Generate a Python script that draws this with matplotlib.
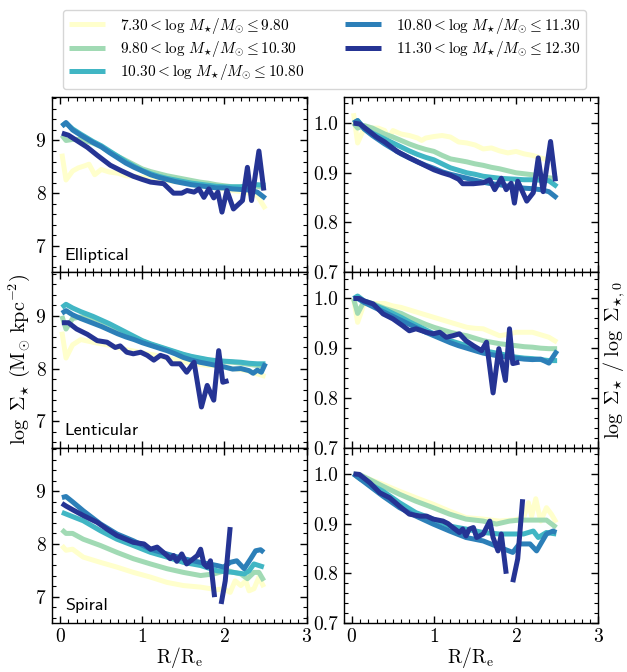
import numpy as np
import matplotlib
matplotlib.use("Agg")
import matplotlib.pyplot as plt
from matplotlib.ticker import MultipleLocator, FormatStrFormatter

plt.rcParams['font.family'] = ['cmr10', 'DejaVu Serif']
plt.rcParams['mathtext.fontset'] = 'cm'
plt.rcParams['axes.formatter.use_mathtext'] = True
plt.rcParams['axes.unicode_minus'] = False

NAN = np.nan
colors = ['#ffffcc', '#a1dab4', '#41b6c4', '#2c7fb8', '#253494']
labels = [r'$7.30 < \log\,M_{\star}/M_{\odot} \leq 9.80$',
          r'$9.80 < \log\,M_{\star}/M_{\odot} \leq 10.30$',
          r'$10.30 < \log\,M_{\star}/M_{\odot} \leq 10.80$',
          r'$10.80 < \log\,M_{\star}/M_{\odot} \leq 11.30$',
          r'$11.30 < \log\,M_{\star}/M_{\odot} \leq 12.30$']
types = ['Elliptical', 'Lenticular', 'Spiral']

xg = [0.02, 0.07, 0.15, 0.25, 0.4, 0.5, 0.6, 0.7, 0.8, 0.9, 1.0, 1.1, 1.2, 1.3,
      1.4, 1.5, 1.6, 1.7, 1.8, 1.9, 2.0, 2.1, 2.2, 2.3, 2.4, 2.5]

# ---------------- Elliptical, log Sigma ----------------
ell_sig_yellow_x = [0.02, 0.07, 0.15, 0.22, 0.3, 0.35, 0.42, 0.5, 0.6, 0.7, 0.8, 0.9, 1.0, 1.1,
                    1.2, 1.3, 1.4, 1.5, 1.6, 1.7, 1.8, 1.9, 2.0, 2.1, 2.2, 2.3, 2.4, 2.5]
ell_sig_yellow_y = [8.75, 8.25, 8.42, 8.48, 8.52, 8.55, 8.35, 8.45, 8.4, 8.38, 8.33, 8.32, 8.3, 8.28,
                    8.25, 8.24, 8.22, 8.2, 8.17, 8.15, 8.12, 8.1, 8.08, 8.05, 8.03, 8.0, 7.95, 7.7]
ell_sig_green_y = [9.1, 9.0, 9.02, 9.02, 8.95, 8.88, 8.78, 8.7, 8.62, 8.54, 8.46, 8.41, 8.37, 8.33,
                   8.3, 8.27, 8.24, 8.21, 8.19, 8.16, 8.14, 8.12, 8.12, 8.12, 8.13, 8.1]
ell_sig_teal_y = [9.28, 9.33, 9.22, 9.12, 8.98, 8.9, 8.8, 8.7, 8.6, 8.51, 8.43, 8.37, 8.32, 8.28,
                  8.25, 8.22, 8.19, 8.17, 8.15, 8.13, 8.12, 8.12, 8.12, 8.15, 8.16, 8.15]
ell_sig_blue_y = [9.27, 9.34, 9.2, 9.1, 8.96, 8.88, 8.77, 8.67, 8.57, 8.49, 8.42, 8.35, 8.3, 8.26,
                  8.22, 8.19, 8.16, 8.14, 8.12, 8.1, 8.1, 8.08, 8.07, 8.06, 8.02, 7.9]
ell_sig_dark_x = [0.02, 0.1, 0.2, 0.33, 0.45, 0.61, 0.75, 0.89, 1.0, 1.1, 1.26, 1.38, 1.48, 1.545,
                  1.63, 1.69, 1.75, 1.81, 1.87, 1.92, 1.97, 2.03, 2.11, 2.22, 2.28, 2.33, 2.42, 2.48]
ell_sig_dark_y = [9.14, 9.1, 9.0, 8.87, 8.72, 8.53, 8.42, 8.32, 8.26, 8.21, 8.18, 8.0, 8.0, 8.05,
                  8.02, 8.08, 7.92, 8.08, 7.91, 8.02, 7.64, 8.05, 7.7, 7.86, 8.49, 7.86, 8.8, 8.05]

# ---------------- Elliptical, ratio ----------------
ell_rat_yellow_x = [0.02, 0.07, 0.15, 0.25, 0.32, 0.4, 0.45, 0.5, 0.6, 0.7, 0.8, 0.85, 0.9, 1.0, 1.1,
                    1.2, 1.3, 1.4, 1.5, 1.6, 1.7, 1.8, 1.9, 2.0, 2.1, 2.2, 2.3, 2.4]
ell_rat_yellow_y = [1.02, 0.96, 0.99, 0.99, 0.99, 0.985, 0.97, 0.985, 0.978, 0.975, 0.97, 0.965, 0.97,
                    0.973, 0.975, 0.972, 0.962, 0.96, 0.956, 0.948, 0.95, 0.944, 0.94, 0.943, 0.938,
                    0.935, 0.93, 0.925]
ell_rat_green_y = [1.0, 0.99, 0.995, 0.99, 0.978, 0.972, 0.965, 0.958, 0.952, 0.947, 0.943, 0.935, 0.928,
                   0.925, 0.922, 0.918, 0.915, 0.911, 0.908, 0.904, 0.9, 0.898, 0.896, 0.893, 0.89, 0.888]
ell_rat_teal_y = [1.0, 1.005, 0.99, 0.98, 0.968, 0.96, 0.952, 0.944, 0.937, 0.931, 0.926, 0.918, 0.91,
                  0.905, 0.9, 0.897, 0.893, 0.891, 0.889, 0.888, 0.887, 0.886, 0.886, 0.885, 0.884, 0.872]
ell_rat_blue_y = [1.0, 1.005, 0.988, 0.975, 0.958, 0.948, 0.938, 0.93, 0.922, 0.915, 0.909, 0.902, 0.897,
                  0.893, 0.889, 0.885, 0.881, 0.878, 0.876, 0.873, 0.871, 0.869, 0.868, 0.866, 0.862, 0.849]
ell_rat_dark_x = [0.02, 0.1, 0.2, 0.3, 0.4, 0.55, 0.7, 0.85, 1.0, 1.1, 1.2, 1.3, 1.35, 1.48, 1.6, 1.68,
                  1.74, 1.82, 1.88, 1.94, 1.98, 2.02, 2.13, 2.21, 2.27, 2.33, 2.42, 2.48]
ell_rat_dark_y = [1.0, 0.998, 0.985, 0.972, 0.962, 0.943, 0.93, 0.918, 0.906, 0.9, 0.895, 0.887, 0.878,
                  0.878, 0.88, 0.886, 0.866, 0.889, 0.866, 0.879, 0.839, 0.883, 0.843, 0.86, 0.93, 0.862,
                  0.963, 0.883]

# ---------------- Lenticular, log Sigma ----------------
len_sig_yellow_y = [8.7, 8.2, 8.45, 8.55, 8.5, 8.47, 8.44, 8.4, 8.36, 8.33, 8.3, 8.27, 8.24, 8.2,
                    8.17, 8.13, 8.1, 8.08, 8.06, 8.05, 8.03, 8.0, 7.98, 7.95, 7.9, 7.85]
len_sig_green_y = [9.0, 8.75, 8.95, 8.98, 8.95, 8.9, 8.83, 8.75, 8.67, 8.59, 8.52, 8.46, 8.41, 8.36,
                   8.31, 8.26, 8.22, 8.19, 8.16, 8.14, 8.13, 8.12, 8.1, 8.08, 8.06, 8.05]
len_sig_teal_y = [9.16, 9.22, 9.15, 9.08, 8.99, 8.92, 8.85, 8.77, 8.69, 8.61, 8.53, 8.47, 8.42, 8.37,
                  8.32, 8.27, 8.23, 8.2, 8.17, 8.15, 8.14, 8.13, 8.12, 8.1, 8.09, 8.09]
len_sig_blue_x = [0.02, 0.07, 0.15, 0.25, 0.4, 0.5, 0.6, 0.7, 0.8, 0.9, 1.0, 1.1, 1.2, 1.3, 1.4, 1.5,
                  1.6, 1.7, 1.8, 1.9, 2.0, 2.1, 2.2, 2.3, 2.35, 2.4, 2.45, 2.5]
len_sig_blue_y = [9.05, 9.1, 9.02, 8.95, 8.86, 8.8, 8.73, 8.66, 8.6, 8.55, 8.49, 8.44, 8.39, 8.34, 8.28,
                  8.21, 8.16, 8.12, 8.09, 8.06, 8.03, 7.99, 8.0, 7.96, 7.91, 7.97, 7.93, 8.1]
len_sig_dark_x = [0.02, 0.1, 0.2, 0.33, 0.45, 0.57, 0.67, 0.73, 0.81, 0.89, 0.98, 1.06, 1.14, 1.22,
                  1.3, 1.36, 1.46, 1.54, 1.63, 1.72, 1.79, 1.87, 1.93, 1.98, 2.05]
len_sig_dark_y = [8.87, 8.87, 8.75, 8.65, 8.53, 8.5, 8.4, 8.43, 8.31, 8.28, 8.31, 8.25, 8.16, 8.25,
                  8.21, 8.09, 8.09, 7.93, 8.12, 7.27, 7.68, 7.4, 8.34, 7.74, 7.77]

# ---------------- Lenticular, ratio ----------------
len_rat_yellow_y = [1.0, 0.952, 0.99, 0.99, 0.99, 0.985, 0.982, 0.977, 0.972, 0.967, 0.962, 0.957, 0.952,
                    0.947, 0.942, 0.94, 0.939, 0.932, 0.925, 0.928, 0.932, 0.932, 0.932, 0.927, 0.922, 0.912]
len_rat_green_y = [1.0, 0.97, 0.995, 0.99, 0.98, 0.975, 0.97, 0.962, 0.955, 0.948, 0.942, 0.937, 0.932,
                   0.928, 0.925, 0.92, 0.915, 0.912, 0.909, 0.907, 0.905, 0.903, 0.902, 0.9, 0.899, 0.899]
len_rat_teal_y = [1.0, 1.005, 0.995, 0.988, 0.978, 0.97, 0.962, 0.953, 0.945, 0.937, 0.929, 0.922, 0.915,
                  0.91, 0.905, 0.9, 0.895, 0.892, 0.889, 0.885, 0.882, 0.88, 0.879, 0.877, 0.875, 0.875]
len_rat_blue_y = [1.0, 1.0, 0.992, 0.984, 0.972, 0.964, 0.956, 0.948, 0.94, 0.932, 0.925, 0.918, 0.911,
                  0.905, 0.9, 0.895, 0.89, 0.887, 0.884, 0.882, 0.88, 0.878, 0.877, 0.878, 0.87, 0.895]
len_rat_dark_x = [0.02, 0.09, 0.15, 0.26, 0.38, 0.5, 0.62, 0.7, 0.78, 0.91, 0.99, 1.07, 1.15, 1.23,
                  1.31, 1.39, 1.48, 1.58, 1.64, 1.72, 1.79, 1.87, 1.92, 1.96, 2.04]
len_rat_dark_y = [1.0, 1.0, 0.995, 0.989, 0.969, 0.959, 0.945, 0.935, 0.939, 0.932, 0.929, 0.932, 0.922,
                  0.925, 0.929, 0.915, 0.905, 0.895, 0.912, 0.81, 0.899, 0.835, 0.939, 0.869, 0.872]

# ---------------- Spiral, log Sigma ----------------
spi_sig_yellow_x = [0.02, 0.07, 0.15, 0.28, 0.49, 0.69, 0.89, 1.1, 1.3, 1.5, 1.71, 1.91, 1.99, 2.07,
                    2.13, 2.2, 2.26, 2.3, 2.36, 2.42, 2.48]
spi_sig_yellow_y = [7.97, 7.88, 7.9, 7.75, 7.65, 7.56, 7.46, 7.37, 7.27, 7.21, 7.18, 7.13, 7.15, 7.08,
                    7.3, 7.21, 7.3, 7.11, 7.15, 7.37, 7.18]
spi_sig_green_x = [0.02, 0.07, 0.15, 0.28, 0.49, 0.69, 0.89, 1.1, 1.3, 1.5, 1.71, 1.87, 2.03, 2.11,
                   2.2, 2.28, 2.36, 2.42, 2.48]
spi_sig_green_y = [8.27, 8.2, 8.2, 8.09, 7.97, 7.84, 7.72, 7.62, 7.53, 7.46, 7.4, 7.43, 7.5, 7.46,
                   7.43, 7.34, 7.46, 7.46, 7.3]
spi_sig_teal_x = [0.02, 0.1, 0.28, 0.49, 0.69, 0.89, 1.1, 1.3, 1.5, 1.71, 1.91, 2.11, 2.24, 2.3, 2.36, 2.48]
spi_sig_teal_y = [8.6, 8.55, 8.44, 8.25, 8.09, 7.97, 7.84, 7.75, 7.65, 7.59, 7.49, 7.46, 7.43, 7.49, 7.62, 7.56]
spi_sig_blue_x = [0.02, 0.07, 0.15, 0.28, 0.49, 0.69, 0.89, 1.1, 1.3, 1.5, 1.71, 1.91, 1.99, 2.07,
                  2.15, 2.24, 2.32, 2.38, 2.44, 2.48]
spi_sig_blue_y = [8.88, 8.9, 8.8, 8.63, 8.38, 8.19, 8.06, 7.9, 7.81, 7.72, 7.65, 7.59, 7.56, 7.65,
                  7.68, 7.53, 7.72, 7.87, 7.89, 7.84]
spi_sig_dark_x = [0.02, 0.07, 0.15, 0.28, 0.45, 0.57, 0.69, 0.89, 1.02, 1.1, 1.18, 1.3, 1.34, 1.38,
                  1.42, 1.48, 1.54, 1.67, 1.71, 1.75, 1.79, 1.83, 1.88, NAN, 1.96, 2.01, 2.07]
spi_sig_dark_y = [8.77, 8.72, 8.65, 8.54, 8.41, 8.28, 8.16, 8.03, 8.0, 7.9, 7.94, 7.78, 7.72, 7.78,
                  7.67, 7.81, 7.62, 7.78, 7.9, 7.62, 7.56, 7.68, 6.99, NAN, 6.86, 7.3, 8.32]

# ---------------- Spiral, ratio ----------------
spi_rat_yellow_x = [0.02, 0.1, 0.2, 0.38, 0.58, 0.78, 0.99, 1.19, 1.39, 1.6, 1.8, 1.96, 2.09, 2.15,
                    2.19, 2.24, 2.3, 2.37, 2.43, 2.49]
spi_rat_yellow_y = [1.0, 0.995, 0.99, 0.979, 0.965, 0.952, 0.939, 0.925, 0.912, 0.909, 0.905, 0.907,
                    0.911, 0.942, 0.915, 0.95, 0.905, 0.932, 0.919, 0.902]
spi_rat_green_x = [0.02, 0.1, 0.2, 0.38, 0.58, 0.78, 0.99, 1.19, 1.39, 1.6, 1.76, 1.92, 2.04, 2.21, 2.37, 2.49]
spi_rat_green_y = [1.0, 0.998, 0.99, 0.975, 0.959, 0.945, 0.932, 0.919, 0.909, 0.905, 0.899, 0.905,
                   0.907, 0.907, 0.907, 0.892]
spi_rat_teal_x = [0.02, 0.1, 0.38, 0.58, 0.78, 0.99, 1.19, 1.39, 1.6, 1.8, 1.96, 2.09, 2.21, 2.27, 2.37, 2.49]
spi_rat_teal_y = [1.0, 0.99, 0.965, 0.942, 0.922, 0.909, 0.895, 0.889, 0.882, 0.879, 0.879, 0.879,
                  0.885, 0.872, 0.882, 0.879]
spi_rat_blue_x = [0.02, 0.1, 0.38, 0.58, 0.78, 0.99, 1.19, 1.39, 1.6, 1.8, 1.96, 2.04, 2.17, 2.25,
                  2.37, 2.45, 2.49]
spi_rat_blue_y = [1.0, 0.99, 0.955, 0.932, 0.915, 0.899, 0.885, 0.872, 0.865, 0.852, 0.842, 0.859,
                  0.859, 0.845, 0.879, 0.885, 0.882]
spi_rat_dark_x = [0.02, 0.09, 0.22, 0.34, 0.46, 0.58, 0.7, 0.83, 0.91, 0.99, 1.11, 1.17, 1.23, 1.31,
                  1.35, 1.39, 1.43, 1.48, 1.52, 1.6, 1.68, 1.72, 1.78, 1.82, 1.88, NAN, 1.96, 2.02, 2.08]
spi_rat_dark_y = [1.0, 0.999, 0.982, 0.962, 0.952, 0.935, 0.919, 0.915, 0.915, 0.909, 0.905, 0.9,
                  0.892, 0.882, 0.889, 0.875, 0.889, 0.892, 0.872, 0.879, 0.905, 0.872, 0.845, 0.879,
                  0.799, NAN, 0.782, 0.829, 0.949]

panels = {
    (0, 0): [(ell_sig_yellow_x, ell_sig_yellow_y), (xg, ell_sig_green_y), (xg, ell_sig_teal_y),
             (xg, ell_sig_blue_y), (ell_sig_dark_x, ell_sig_dark_y)],
    (0, 1): [(ell_rat_yellow_x, ell_rat_yellow_y), (xg, ell_rat_green_y), (xg, ell_rat_teal_y),
             (xg, ell_rat_blue_y), (ell_rat_dark_x, ell_rat_dark_y)],
    (1, 0): [(xg, len_sig_yellow_y), (xg, len_sig_green_y), (xg, len_sig_teal_y),
             (len_sig_blue_x, len_sig_blue_y), (len_sig_dark_x, len_sig_dark_y)],
    (1, 1): [(xg, len_rat_yellow_y), (xg, len_rat_green_y), (xg, len_rat_teal_y),
             (xg, len_rat_blue_y), (len_rat_dark_x, len_rat_dark_y)],
    (2, 0): [(spi_sig_yellow_x, spi_sig_yellow_y), (spi_sig_green_x, spi_sig_green_y),
             (spi_sig_teal_x, spi_sig_teal_y), (spi_sig_blue_x, spi_sig_blue_y),
             (spi_sig_dark_x, spi_sig_dark_y)],
    (2, 1): [(spi_rat_yellow_x, spi_rat_yellow_y), (spi_rat_green_x, spi_rat_green_y),
             (spi_rat_teal_x, spi_rat_teal_y), (spi_rat_blue_x, spi_rat_blue_y),
             (spi_rat_dark_x, spi_rat_dark_y)],
}

fig, axes = plt.subplots(3, 2, figsize=(6.27, 6.72), dpi=100, sharex=True)
fig.subplots_adjust(left=0.083, right=0.954, top=0.856, bottom=0.073, wspace=0.146, hspace=0.0)

lw = 3.6
handles = []
for (r, c), series in panels.items():
    ax = axes[r, c]
    for k, (xs, ys) in enumerate(series):
        ln, = ax.plot(xs, ys, color=colors[k], lw=lw, solid_joinstyle='round', solid_capstyle='butt')
        if r == 0 and c == 0:
            handles.append(ln)
    ax.set_xlim(-0.1, 3.0)
    ax.xaxis.set_major_locator(MultipleLocator(1))
    ax.xaxis.set_minor_locator(MultipleLocator(0.1))
    if c == 0:
        ax.set_ylim(6.5, 9.83)
        ax.yaxis.set_major_locator(MultipleLocator(1))
        ax.yaxis.set_minor_locator(MultipleLocator(0.2))
        ax.text(0.05, 0.055, types[r], transform=ax.transAxes, family='cmss10',
                fontsize=13, ha='left', va='bottom')
    else:
        ax.set_ylim(0.7, 1.053)
        ax.yaxis.set_major_locator(MultipleLocator(0.1))
        ax.yaxis.set_minor_locator(MultipleLocator(0.02))
        ax.yaxis.set_major_formatter(FormatStrFormatter('%.1f'))
    ax.tick_params(which='both', direction='in', top=True, right=True, labelsize=14, pad=4)
    ax.tick_params(which='major', length=5, width=1.0)
    ax.tick_params(which='minor', length=2.6, width=0.8)
    for s in ax.spines.values():
        s.set_linewidth(1.0)

axes[2, 0].set_xlabel(r'$\mathrm{R/R_e}$', fontsize=14, labelpad=-1)
axes[2, 1].set_xlabel(r'$\mathrm{R/R_e}$', fontsize=14, labelpad=-1)
axes[1, 0].set_ylabel(r'$\log\ \Sigma_{\star}\ (\mathrm{M_{\odot}\ kpc^{-2}})$', fontsize=14.5, labelpad=2)
axes[1, 1].yaxis.set_label_position('right')
axes[1, 1].set_ylabel(r'$\log\ \Sigma_{\star}\ /\ \log\ \Sigma_{\star,0}$', fontsize=14.5, labelpad=2)

fig.legend(handles, labels, loc='upper center', bbox_to_anchor=(0.518, 0.997), ncol=2,
           fontsize=11, handlelength=2.35, handletextpad=1.0, columnspacing=2.6,
           borderpad=0.4, labelspacing=0.22)

fig.savefig('out.png', dpi=100)
